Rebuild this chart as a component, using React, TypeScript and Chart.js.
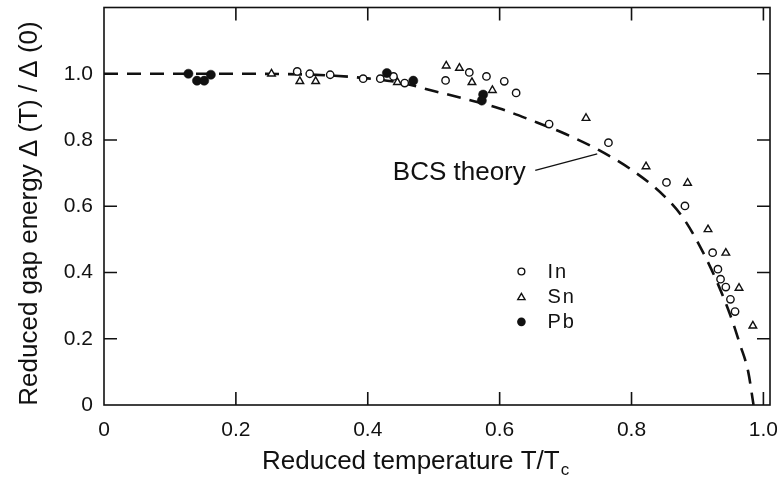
import React, { useEffect, useRef } from 'react';
import { Chart, registerables } from 'chart.js';

Chart.register(...registerables);

// ---- data ----
const bcsT = [0, 0.1, 0.2, 0.3, 0.35, 0.4, 0.45, 0.5, 0.55, 0.6, 0.65, 0.7, 0.75, 0.8, 0.85, 0.88, 0.91, 0.93, 0.95, 0.965, 0.977, 0.985];
const bcsGap = [1.0, 1.0, 1.0, 0.998, 0.994, 0.986, 0.973, 0.948, 0.923, 0.895, 0.858, 0.818, 0.77, 0.71, 0.63, 0.56, 0.455, 0.37, 0.27, 0.18, 0.1, 0.0];

const inT = [0.293, 0.312, 0.343, 0.393, 0.419, 0.439, 0.456, 0.518, 0.554, 0.58, 0.607, 0.625, 0.675, 0.765, 0.853, 0.881, 0.923, 0.931, 0.935, 0.943, 0.95, 0.957];
const inGap = [1.007, 1.0, 0.997, 0.985, 0.985, 0.992, 0.972, 0.98, 1.004, 0.992, 0.977, 0.942, 0.848, 0.792, 0.672, 0.601, 0.46, 0.41, 0.38, 0.356, 0.319, 0.282];

const snT = [0.254, 0.297, 0.321, 0.445, 0.519, 0.539, 0.558, 0.589, 0.731, 0.822, 0.885, 0.916, 0.943, 0.963, 0.984];
const snGap = [1.0, 0.977, 0.977, 0.974, 1.024, 1.017, 0.974, 0.95, 0.866, 0.72, 0.67, 0.53, 0.459, 0.353, 0.239];

const pbT = [0.128, 0.141, 0.152, 0.162, 0.429, 0.469, 0.575, 0.573];
const pbGap = [1.0, 0.979, 0.979, 0.997, 1.002, 0.979, 0.937, 0.919];

const xTickValues = [0, 0.2, 0.4, 0.6, 0.8, 1.0];
const xTickLabels = ['0', '0.2', '0.4', '0.6', '0.8', '1.0'];
const yTickValues = [0, 0.2, 0.4, 0.6, 0.8, 1.0];
const yTickLabels = ['0', '0.2', '0.4', '0.6', '0.8', '1.0'];

const legendLabels = ['In', 'Sn', 'Pb'];
const xTitle = 'Reduced temperature T/T';
const xTitleSub = 'c';
const yTitle = 'Reduced gap energy \u0394 (T) / \u0394 (0)';
const bcsLabel = 'BCS theory';

const FONT = '"Liberation Sans", Arial, Helvetica, sans-serif';
const INK = '#111';

const toPts = (xs: number[], ys: number[]) => xs.map((x, i) => ({ x, y: ys[i] }));

function drawTriangle(ctx: CanvasRenderingContext2D, x: number, y: number, r: number) {
  let rad = 0;
  ctx.beginPath();
  ctx.moveTo(x + Math.sin(rad) * r, y - Math.cos(rad) * r);
  rad += (2 * Math.PI) / 3;
  ctx.lineTo(x + Math.sin(rad) * r, y - Math.cos(rad) * r);
  rad += (2 * Math.PI) / 3;
  ctx.lineTo(x + Math.sin(rad) * r, y - Math.cos(rad) * r);
  ctx.closePath();
}

const framePlugin = {
  id: 'frameAndDecor',
  afterDatasetsDraw(chart: any) {
    const { ctx, chartArea: a, scales } = chart;
    const xs = scales.x;
    const ys = scales.y;
    ctx.save();
    ctx.strokeStyle = INK;
    ctx.fillStyle = INK;
    ctx.lineWidth = 1.6;
    ctx.strokeRect(a.left, a.top, a.right - a.left, a.bottom - a.top);
    const tl = 13;
    ctx.beginPath();
    xTickValues.forEach((v) => {
      const px = xs.getPixelForValue(v);
      if (px - a.left < 2 || a.right - px < 2) return;
      ctx.moveTo(px, a.bottom);
      ctx.lineTo(px, a.bottom - tl);
      ctx.moveTo(px, a.top);
      ctx.lineTo(px, a.top + tl);
    });
    yTickValues.forEach((v) => {
      const py = ys.getPixelForValue(v);
      if (a.bottom - py < 2 || py - a.top < 2) return;
      ctx.moveTo(a.left, py);
      ctx.lineTo(a.left + tl, py);
      ctx.moveTo(a.right, py);
      ctx.lineTo(a.right - tl, py);
    });
    ctx.stroke();

    // legend
    const lx = xs.getPixelForValue(0.633);
    const ly0 = ys.getPixelForValue(0.403);
    const dy = ys.getPixelForValue(0.327) - ly0;
    ctx.lineWidth = 1.4;
    ctx.font = `20px ${FONT}`;
    (ctx as any).letterSpacing = '2px';
    ctx.textAlign = 'left';
    ctx.textBaseline = 'middle';
    legendLabels.forEach((lab, i) => {
      const y = ly0 + dy * i;
      if (i === 0) {
        ctx.beginPath();
        ctx.arc(lx, y, 3.4, 0, Math.PI * 2);
        ctx.stroke();
      } else if (i === 1) {
        drawTriangle(ctx, lx, y + 0.8, 4.2);
        ctx.stroke();
      } else {
        ctx.beginPath();
        ctx.arc(lx, y, 4.3, 0, Math.PI * 2);
        ctx.fill();
      }
      ctx.fillText(lab, lx + 26, y + 1);
    });
    (ctx as any).letterSpacing = '0px';

    // BCS annotation
    ctx.font = `26px ${FONT}`;
    ctx.textBaseline = 'alphabetic';
    ctx.fillText(bcsLabel, xs.getPixelForValue(0.438), ys.getPixelForValue(0.68));
    ctx.lineWidth = 1.3;
    ctx.beginPath();
    ctx.moveTo(xs.getPixelForValue(0.654), ys.getPixelForValue(0.708));
    ctx.lineTo(xs.getPixelForValue(0.748), ys.getPixelForValue(0.758));
    ctx.stroke();

    // axis titles
    ctx.font = `26px ${FONT}`;
    ctx.textAlign = 'left';
    ctx.fillText(xTitle, 262, 469);
    const w = ctx.measureText(xTitle).width;
    ctx.font = `17px ${FONT}`;
    ctx.fillText(xTitleSub, 262 + w + 1, 475);

    ctx.translate(30, 213.5);
    ctx.rotate(-Math.PI / 2);
    ctx.font = `26px ${FONT}`;
    ctx.textAlign = 'center';
    ctx.textBaseline = 'middle';
    ctx.fillText(yTitle, 0, 0);
    ctx.restore();
  },
};

export default function App() {
  const ref = useRef<HTMLCanvasElement>(null);
  useEffect(() => {
    if (!ref.current) return;
    const chart = new Chart(ref.current, {
      type: 'scatter',
      data: {
        datasets: [
          {
            label: 'In',
            data: toPts(inT, inGap),
            pointStyle: 'circle',
            pointRadius: 3.7,
            pointBorderWidth: 1.4,
            pointBorderColor: INK,
            pointBackgroundColor: '#fff',
            order: 1,
          },
          {
            label: 'Sn',
            data: toPts(snT, snGap),
            pointStyle: 'triangle',
            pointRadius: 4.4,
            pointBorderWidth: 1.4,
            pointBorderColor: INK,
            pointBackgroundColor: '#fff',
            order: 1,
          },
          {
            label: 'Pb',
            data: toPts(pbT, pbGap),
            pointStyle: 'circle',
            pointRadius: 4.6,
            pointBorderWidth: 0.5,
            pointBorderColor: INK,
            pointBackgroundColor: INK,
            order: 0,
          },
          {
            label: 'BCS theory',
            data: toPts(bcsT, bcsGap),
            showLine: true,
            borderColor: INK,
            borderWidth: 2.6,
            borderDash: [14, 9],
            pointRadius: 0,
            cubicInterpolationMode: 'monotone',
            fill: false,
            order: 10,
          } as any,
        ],
      },
      options: {
        animation: false,
        responsive: false,
        devicePixelRatio: 1,
        layout: { padding: { top: 7.5, right: 7, left: 0, bottom: 0 } },
        plugins: { legend: { display: false }, tooltip: { enabled: false } },
        scales: {
          x: {
            type: 'linear',
            min: 0,
            max: 1.01,
            grid: { display: false, drawTicks: false },
            border: { display: false },
            afterBuildTicks: (s: any) => {
              s.ticks = xTickValues.map((v) => ({ value: v }));
            },
            afterFit: (s: any) => {
              s.height = 76;
              s.paddingLeft = 0;
              s.paddingRight = 0;
            },
            ticks: {
              autoSkip: false,
              maxRotation: 0,
              padding: 13,
              color: INK,
              font: { family: FONT, size: 21 },
              callback: (_v: any, i: number) => xTickLabels[i],
            },
          },
          y: {
            type: 'linear',
            min: 0,
            max: 1.2,
            grid: { display: false, drawTicks: false },
            border: { display: false },
            afterBuildTicks: (s: any) => {
              s.ticks = yTickValues.map((v) => ({ value: v }));
            },
            afterFit: (s: any) => {
              s.width = 104;
              s.paddingTop = 0;
              s.paddingBottom = 0;
            },
            ticks: {
              autoSkip: false,
              padding: 11,
              color: INK,
              font: { family: FONT, size: 21 },
              callback: (_v: any, i: number) => yTickLabels[i],
            },
          },
        },
      },
      plugins: [framePlugin],
    });
    return () => chart.destroy();
  }, []);
  return (
    <div style={{ position: 'absolute', left: 0, top: 0, width: 777, height: 481, background: '#fff' }}>
      <canvas ref={ref} width={777} height={481} style={{ display: 'block', width: 777, height: 481 }} />
    </div>
  );
}
